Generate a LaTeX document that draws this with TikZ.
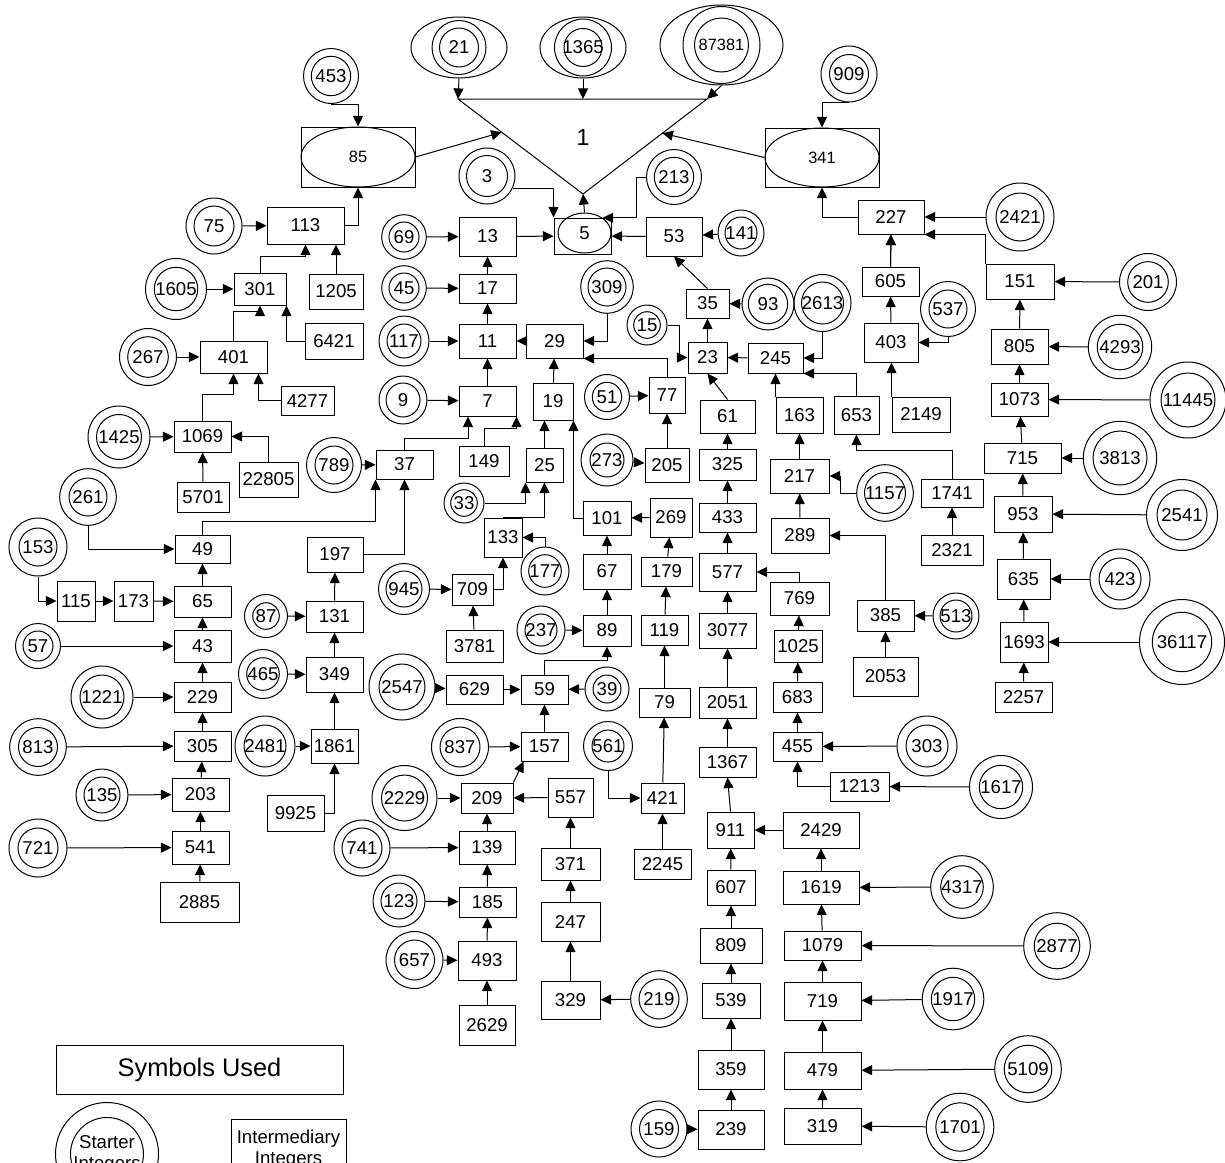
\documentclass[tikz,border=0pt]{standalone}
\usepackage{fontspec}
\setmainfont{Liberation Sans}
\usetikzlibrary{arrows.meta,shapes.geometric,calc}

\tikzset{
  ibox/.style={draw, rectangle, inner sep=0pt},
  starter/.style={draw, circle, inner sep=0pt},
  arr/.style={-{Triangle[length=5.3pt,width=5pt]}},
  smallnum/.style={font=\fontsize{8.2}{10}\selectfont},
}

\begin{document}
\begin{tikzpicture}[x=0.5pt, y=-0.5pt, line width=0.5pt,
    every node/.style={font=\fontsize{9.3}{11}\selectfont}]
    \useasboundingbox (0,0) rectangle (1225,1162);
    \clip (0,0) rectangle (1225,1162);

    % Triangle of 1
    \coordinate (tri-l) at (458,99);
    \coordinate (tri-r) at (707,99);
    \coordinate (tri-b) at (583,194);
    \coordinate (tri-m) at (583,99);
    \coordinate (tri-le) at ($(tri-l)!0.35!(tri-b)$);
    \coordinate (tri-re) at ($(tri-r)!0.36!(tri-b)$);
    \draw (tri-l) -- (tri-r) -- (tri-b) -- cycle;
    \node[font=\fontsize{11.6}{13}\selectfont] (one) at (583,138) {1};

    % Starters of 1 (ellipse round a double circle)
    \foreach \n/\x/\y/\ew/\eh/\ro/\ri in {21/459/47.5/96/61/27/19.5, 1365/583/47.5/86/61/28.5/19} {
        \node[draw, ellipse, inner sep=0pt, minimum width=\ew*0.5pt, minimum height=\eh*0.5pt] (e\n) at (\x,\y) {};
        \node[starter, minimum size=\ro*1pt] (s\n) at (\x,\y) {\n};
        \draw (s\n.center) circle[radius=\ri*0.5pt];
    }
    \node[draw, ellipse, inner sep=0pt, minimum width=61.5pt, minimum height=40pt] (e87381) at (721.5,45) {};
    \node[starter, smallnum, minimum size=38.5pt] (s87381) at (721.5,45) {87381};
    \draw (s87381.center) circle[radius=13.5pt];

    % 85, 341 and 5 (box round an ellipse)
    \node[ibox, minimum width=57pt, minimum height=30pt] (n85) at (358,157) {};
    \node[draw, ellipse, inner sep=0pt, minimum width=57pt, minimum height=30pt, smallnum] (e85) at (n85) {85};
    \node[ibox, minimum width=57pt, minimum height=29.5pt] (n341) at (822,157.5) {};
    \node[draw, ellipse, inner sep=0pt, minimum width=57pt, minimum height=29.5pt, smallnum] (e341) at (n341) {341};
    \node[ibox, minimum width=28.5pt, minimum height=18pt] (n5) at (582.5,236) {};
    \node[draw, ellipse, inner sep=0pt, minimum width=26.5pt, minimum height=20pt] (e5) at (584.5,233) {5};

    % Intermediary integers (boxes): name/x/y/width/height
    \foreach \n/\x/\y/\w/\h in {
        113/305.5/225.5/77/37, 301/260/289/52/32, 1205/336/291.5/54/35, 6421/334/341/58/36,
        401/233.5/357/67/32, 4277/307.5/400.5/53/29, 1069/202.5/436.5/57/31, 5701/203/497/52/30,
        22805/268.5/479.5/59/35, 49/202.5/549/55/28, 37/404.5/464.5/57/29, 197/335/554.5/56/35,
        115/76/601/38/40, 173/133.5/601/39/40, 65/202.5/601.5/57/31, 43/202.5/646/57/32,
        229/202.5/697/57/30, 305/202.5/746/57/30, 203/200.5/794.5/57/33, 541/200.5/847.5/57/33,
        2885/199.5/902/79/40, 9925/295.5/813/57/36, 131/334.5/616.5/57/31, 349/334.5/674.5/57/35,
        1861/334.5/746/47/34, 13/487.5/236.5/57/39, 53/674/236.5/56/39, 17/487.5/288.5/57/29,
        11/487.5/341/57/34, 29/554.5/341/57/34, 7/487.5/401/57/30, 149/484/461/50/30,
        19/553/401.5/40/37, 25/544.5/465/37/34, 133/503/537.5/38/39, 709/472.5/589.5/41/31,
        3781/474.5/646/57/32, 101/607/518/48/34, 269/671/517.5/42/39, 67/607/571.5/48/35,
        89/607/630.5/48/31, 59/544.5/689.5/47/29, 629/474.5/689.5/57/29, 157/544.5/746.5/47/29,
        209/487/798/52/30, 557/570.5/797.5/45/39, 139/487/847.5/56/33, 185/487.5/902/57/30,
        493/487/960.5/58/39, 2629/487/1025/56/40, 371/570.5/864/59/32, 247/570.5/921.5/59/39,
        329/570.5/1000/59/38, 421/662.5/798/43/30, 2245/662.5/864/57/30, 79/664.5/702.5/51/29,
        119/664.5/630/47/30, 179/666.5/571.5/51/29, 205/667/465/44/34, 77/667/395/36/36,
        23/707.5/357.5/39/31, 35/707.5/303.5/43/29, 245/775.5/358/55/30, 61/727.5/416.5/55/33,
        325/727.5/464.5/57/31, 433/727.5/517.5/57/29, 577/727.5/572/57/38, 3077/727.5/630.5/57/35,
        2051/727.5/702.5/57/31, 1367/727.5/762/57/30, 911/730.5/830/47/36, 607/731/887.5/48/35,
        809/731/945.5/62/35, 539/731/1000.5/58/35, 359/731/1069.5/66/39, 239/731/1129.5/66/39,
        163/799.5/415/47/36, 653/856.5/415/45/38, 217/799.5/476/59/34, 289/800/535.5/58/35,
        385/885.5/615.5/57/31, 2053/885.5/676.5/65/39, 1741/952/493/62/28, 2321/952/550/62/30,
        2149/921/414.5/58/35, 403/891/342.5/54/39, 605/890.5/281.5/57/29, 227/891/217/66/34,
        151/1020/281.5/68/35, 805/1019.5/346.5/57/35, 1073/1019.5/399.5/57/33, 715/1022.5/458/77/30,
        953/1023/514/58/36, 635/1023.5/579/53/40, 1693/1024/642/48/40, 2257/1023.5/697/57/30,
        769/799.5/598.5/59/33, 1025/798/646/48/32, 683/797.5/697/49/30, 455/797.5/746.5/49/29,
        1213/859.5/786.5/59/29, 2429/821/830/76/36, 1619/821/887.5/76/33, 1079/822.5/945.5/77/29,
        719/822.5/1001/77/38, 479/822.5/1070.5/77/37, 319/822.5/1126/77/36} {
        \node[ibox, minimum width=\w*0.5pt, minimum height=\h*0.5pt] (n\n) at (\x,\y) {\n};
    }

    % Starter integers (double circles): name/x/y/outer/inner radius
    \foreach \n/\x/\y/\ro/\ri in {
        453/331/76/27.5/19.7, 75/214/226/28/20, 1605/176/289/30.5/21.7, 267/148/357/28.5/20.3,
        1425/119/437/31/22.5, 261/88/497/28.3/19, 789/334/465/27.5/19, 153/38/547/29/19,
        57/38/646/22.5/15, 1221/102/697/31/22, 813/38/747/28.3/19.5, 135/102/795/26/18,
        721/38/848/29/20, 87/266/616/21.5/13.3, 465/263/674/24.5/16.3, 2481/265/746/30/21,
        945/404/589/25.5/18, 2547/402/687/33/23, 2229/404.5/798/32.5/23, 3/487/176/28/20.5,
        213/674/177/27.5/19.7, 69/404/237/22.3/15, 141/741/233/23/16, 45/404/288/22.3/15,
        117/404/341/25/17, 309/607/287/26.3/19, 9/403/400/24/17, 33/464/503/20/13.3,
        177/545/571/24/16.3, 237/541/630/24/16, 39/607/689/22/14, 837/460/747/28.5/20,
        741/362/848/28/20, 123/399/901/26/18, 657/414.5/960/28.5/20, 219/659/999/28.3/20,
        561/608/746/24.5/16, 273/607/460/26/17, 51/607/397/22.5/14.7, 15/647/325/20/13.3,
        93/768/304/26/19.7, 2613/822.5/303/28.5/21, 1157/885/493/28.3/20.5, 513/956/616/23/16,
        537/948/309/27.5/19, 909/849/74/28/19.5, 2421/1020/217/34/24, 201/1148/282/28.5/20.3,
        4293/1120/347/31.7/22.8, 11445/1188/400/38/27, 3813/1120/458/36.7/27, 2541/1182/515/35.5/25,
        423/1120/579/30/21, 36117/1182/642/42.5/29.7, 303/927/746/30/21, 1617/1001/787/31.5/21.7,
        4317/962/887/31.3/21.3, 2877/1057/946/33.3/22.8, 1917/953/999/30.8/21.7, 5109/1028/1069/33.3/23.8,
        1701/960/1127/33.8/24.2, 159/659/1129/28/19.5} {
        \node[starter, minimum size=\ro*1pt] (s\n) at (\x,\y) {\n};
        \draw (s\n.center) circle[radius=\ri*0.5pt];
    }

    % Straight connectors
    \foreach \a/\b in {s75/n113, s1605/n301, s267/n401, s1425/n1069, n5701/n1069, s789/n37,
        n115/n173, n173/n65, n65/n49, s57/n43, n43/n65, s1221/n229, n229/n43, s813/n305,
        n305/n229, s135/n203, n203/n305, s721/n541, n541/n203, n2885/n541, n131/n197,
        s87/n131, n349/n131, s465/n349, n1861/n349, s2481/n1861, s69/n13, n13/n5, n53/n5,
        s141/n53, n17/n13, s45/n17, n11/n17, s117/n11, n29/n11, n7/n11, s9/n7, n19/n29,
        s945/n709, n3781/n709, n269/n101, n67/n101, n89/n67, s237/n89, s2547/n629, n629/n59,
        s39/n59, n157/n59, s837/n157, s2229/n209, n557/n209, n139/n209, s741/n139, n185/n139,
        s123/n185, n493/n185, s657/n493, n2629/n493, n371/n557, n247/n371, n329/n247,
        s219/n329, n2245/n421, n421/n79, n79/n119, n119/n179, n179/n269, n205/n77, s273/n205,
        s51/n77, n23/n35, s93/n35, n245/n23, n325/n61, n433/n325, n577/n433, n3077/n577,
        n2051/n3077, n1367/n2051, n607/n911, n809/n607, n539/n809, n359/n539, n239/n359,
        s159/n239, n217/n163, n289/n217, s513/n385, n2053/n385, n2321/n1741, n605/n227,
        n403/n605, s2421/n227, s201/n151, n805/n151, s4293/n805, n1073/n805, s11445/n1073,
        n715/n1073, s3813/n715, n953/n715, s2541/n953, n635/n953, s423/n635, n1693/n635,
        s36117/n1693, n2257/n1693, n1025/n769, n683/n1025, n455/n683, s303/n455, s1617/n1213,
        n2429/n911, n1619/n2429, s4317/n1619, n1079/n1619, s2877/n1079, n719/n1079, s1917/n719,
        n479/n719, s5109/n479, n319/n479, s1701/n319} {
        \draw[arr] (\a) -- (\b);
    }

    % Into the triangle
    \draw[arr] (e21.south) -- (tri-l);
    \draw[arr] (e1365.south) -- (tri-m);
    \draw[arr] (e87381.south) -- (tri-r);
    \draw[arr] (n85.east) -- (tri-le);
    \draw[arr] (n341.west) -- (tri-re);
    \draw[arr] (e5.north) -- (tri-b);

    % Bent connectors, left side
    \draw[arr] (s453.south) -| (n85.north);
    \draw[arr] (n113.east) -| (n85.south);
    \draw[arr] (n1205.north) -- (n1205.north |- n113.south);
    \draw[arr] (n301.north) -- ++(0,-16) -| (n113.south);
    \draw[arr] (n6421.west) -| (n301.south east);
    \draw[arr] (n401.north) -- ++(0,-29) -| (n301.south);
    \draw[arr] (n4277.west) -| ($(n401.south east)+(-9,0)$);
    \draw[arr] (n1069.north) -- ++(0,-26) -| (n401.south);
    \draw[arr] (n22805.north) |- (n1069.east);
    \draw[arr] (s261.south) |- (n49.west);
    \draw[arr] (s153.south) |- (n115.west);
    \draw[arr] (n49.north) -- ++(0,-13) -| (n37.south west);
    \draw[arr] (n197.east) -| (n37.south);
    \draw[arr] (n37.north) -- ++(0,-11) -| ($(n7.south)+(-19.5,0)$);
    \draw[arr] (n9925.east) -| (n1861.south);

    % Bent connectors, middle
    \draw[arr] (s3.-25) -| (n5.north west);
    \draw[arr] (s213.west) -- ++(-10,0) |- (e5.40);
    \draw[arr] (s309.south) |- (n29.east);
    \draw[arr] (n77.north) |- (n29.south east);
    \draw[arr] (n149.north) -- ++(0,-17) -| (n7.south east);
    \draw[arr] (n25.north) -- (n25.north |- n19.south);
    \draw[arr] (s33.east) -| (n25.south west);
    \draw[arr] (n133.north) -| (n25.south);
    \draw[arr] (s177.north) |- (n133.east);
    \draw[arr] (n709.east) -| (n133.south);
    \draw[arr] (n101.west) -| (n19.south east);
    \draw[arr] (n59.north) -- ++(0,-14) -| (n89.south);
    \draw[arr] (n209.north east) -- ($(n157.south west)+(3,0)$);
    \draw[arr] (s561.south) |- (n421.west);
    \draw[arr] (s15.east) -- ++(12,0) |- (n23.west);
    \draw[arr] (n35.north) -- (n53.south);
    \draw[arr] (n61.north) -- (n23.south);
    \draw[arr] (n911.north) -- (n1367.south);

    % Bent connectors, right side
    \draw[arr] (s2613.south) |- (n245.east);
    \draw[arr] (n163.north west) -- (n163.north west |- n245.south);
    \draw[arr] (n653.north) |- (n245.south east);
    \draw[arr] (s1157.west) -- ++(-16,0) |- (n217.east);
    \draw[arr] (n385.north) |- (n289.east);
    \draw[arr] (n1741.north) -- ++(0,-28) -| (n653.south);
    \draw[arr] (n2149.north west) -- (n2149.north west |- n403.south);
    \draw[arr] (s537.south) |- (n403.east);
    \draw[arr] (n605.north) -- (n227.south);
    \draw[arr] (n227.west) -| (n341.south);
    \draw[arr] (s909.south) -| (n341.north);
    \draw[arr] (n151.north west) |- (n227.south east);
    \draw[arr] (n769.north) |- (n577.east);
    \draw[arr] (n1213.west) -| (n455.south);

    % Legend
    \node[ibox, minimum width=143.5pt, minimum height=24.5pt, font=\fontsize{12.7}{15}\selectfont] (symbols) at (199.5,1069.5) {Symbols Used};
    \node[starter, minimum size=51.5pt, align=center, font=\fontsize{9.3}{10.5}\selectfont] (sstarter) at (107,1154) {Starter\\Integers};
    \draw (sstarter.center) circle[radius=18.25pt];
    \node[ibox, minimum width=57.5pt, minimum height=30pt, anchor=north, align=center, font=\fontsize{9.3}{10.5}\selectfont] (inter) at (288.5,1119) {Intermediary\\Integers};
\end{tikzpicture}
\end{document}
